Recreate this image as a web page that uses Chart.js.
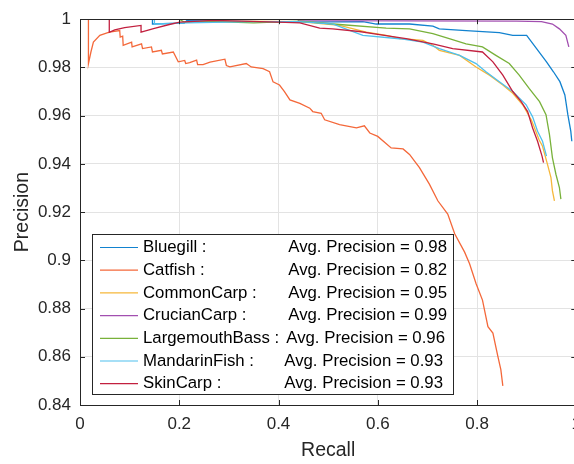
<!DOCTYPE html>
<html lang="en">
<head>
  <meta charset="UTF-8">
  <title>Precision-Recall</title>
  <script src="https://cdn.jsdelivr.net/npm/chart.js"></script>
  <style>
    html, body { margin: 0; padding: 0; overflow: hidden; background: #fff; }
  </style>
</head>
<body>
  <canvas id="prChart" width="590" height="464"></canvas>

  <script>
    // precision-recall points [recall, precision]
    const bluegill = [[0,1],[0.146,1],[0.146,0.998],[0.21,0.9984],[0.215,0.9994],[0.443,0.9988],[0.570,0.999],[0.597,0.998],[0.664,0.998],[0.711,0.9971],[0.724,0.996],[0.778,0.9953],[0.845,0.9944],[0.872,0.9933],[0.900,0.9933],[0.920,0.9878],[0.940,0.9823],[0.954,0.9782],[0.967,0.9741],[0.977,0.9686],[0.983,0.9604],[0.989,0.9535],[0.991,0.9494]];
    const catfish = [[0,1],[0.017,1],[0.017,0.9816],[0.022,0.9864],[0.027,0.9905],[0.040,0.9933],[0.059,0.9946],[0.080,0.9953],[0.081,0.9926],[0.086,0.9930],[0.087,0.9892],[0.104,0.9905],[0.105,0.9885],[0.124,0.9898],[0.126,0.9878],[0.144,0.9885],[0.146,0.9864],[0.164,0.9871],[0.166,0.9856],[0.188,0.9864],[0.198,0.9823],[0.211,0.9829],[0.213,0.9816],[0.221,0.982],[0.235,0.983],[0.237,0.9812],[0.248,0.9812],[0.262,0.9822],[0.292,0.9834],[0.295,0.9808],[0.302,0.9802],[0.335,0.9816],[0.345,0.9802],[0.369,0.9795],[0.382,0.9782],[0.389,0.974],[0.402,0.9727],[0.412,0.970],[0.423,0.9665],[0.443,0.9651],[0.463,0.9631],[0.469,0.9617],[0.486,0.961],[0.493,0.9583],[0.523,0.9563],[0.557,0.9549],[0.573,0.9558],[0.584,0.9528],[0.600,0.9514],[0.627,0.9466],[0.651,0.9462],[0.664,0.9439],[0.684,0.9384],[0.704,0.9316],[0.721,0.9247],[0.741,0.9192],[0.755,0.911],[0.775,0.9034],[0.785,0.8986],[0.798,0.8904],[0.811,0.8835],[0.822,0.8725],[0.832,0.8698],[0.842,0.8602],[0.848,0.8547],[0.852,0.8479]];
    const commonCarp = [[0,1],[0.25,1],[0.30,0.9992],[0.443,0.999],[0.523,0.9974],[0.577,0.9946],[0.617,0.9933],[0.644,0.992],[0.691,0.9912],[0.711,0.9892],[0.724,0.9871],[0.765,0.985],[0.798,0.9802],[0.825,0.9768],[0.852,0.9727],[0.872,0.9693],[0.892,0.9645],[0.910,0.958],[0.925,0.950],[0.932,0.9473],[0.942,0.9398],[0.949,0.9343],[0.952,0.9288],[0.956,0.9247]];
    const crucianCarp = [[0,1],[0.44,1],[0.44,0.9994],[0.88,0.9992],[0.93,0.999],[0.952,0.998],[0.966,0.996],[0.979,0.9933],[0.985,0.9885]];
    const largemouthBass = [[0,1],[0.2,1],[0.21,0.9988],[0.27,0.999],[0.35,0.9985],[0.443,0.9992],[0.51,0.998],[0.617,0.9963],[0.664,0.996],[0.711,0.994],[0.744,0.9919],[0.778,0.9898],[0.811,0.9885],[0.838,0.985],[0.865,0.9816],[0.885,0.9768],[0.905,0.9713],[0.926,0.9658],[0.939,0.9604],[0.946,0.9521],[0.952,0.9425],[0.959,0.9357],[0.966,0.9302],[0.969,0.9254]];
    const mandarinFish = [[0,1],[0.15,1],[0.15,0.998],[0.215,0.9985],[0.35,0.999],[0.443,0.999],[0.510,0.998],[0.570,0.9933],[0.644,0.9919],[0.691,0.9905],[0.724,0.9878],[0.765,0.985],[0.798,0.9816],[0.818,0.9782],[0.845,0.9741],[0.872,0.970],[0.899,0.9645],[0.912,0.9595],[0.922,0.9535],[0.932,0.9494],[0.940,0.9432]];
    const skinCarp = [[0,1],[0.059,1],[0.059,0.9946],[0.07,0.9956],[0.09,0.9965],[0.123,0.9974],[0.123,0.9946],[0.15,0.9962],[0.18,0.9978],[0.201,0.9988],[0.268,0.9995],[0.40,0.9988],[0.443,0.9985],[0.483,0.9963],[0.509,0.996],[0.563,0.9949],[0.590,0.994],[0.657,0.9919],[0.711,0.9898],[0.751,0.9878],[0.811,0.9864],[0.832,0.9823],[0.852,0.9768],[0.872,0.970],[0.889,0.9658],[0.902,0.9617],[0.912,0.9549],[0.922,0.9494],[0.931,0.9432],[0.934,0.9405]];

    const classNames = ['Bluegill :', 'Catfish :', 'CommonCarp :', 'CrucianCarp :', 'LargemouthBass :', 'MandarinFish :', 'SkinCarp :'];
    const avgPrecision = ['0.98', '0.82', '0.95', '0.99', '0.96', '0.93', '0.93'];
    const series = [bluegill, catfish, commonCarp, crucianCarp, largemouthBass, mandarinFish, skinCarp];
    const colors = ['#1282cf', '#f4683a', '#f6b73a', '#a24fb0', '#78b13a', '#4fc0ee', '#c2203f'];

    const FONT = "'Liberation Sans', Arial, Helvetica, sans-serif";

    const boxPlugin = {
      id: 'boxPlugin',
      afterDatasetsDraw(chart) {
        const { ctx, chartArea: a, scales } = chart;
        ctx.save();
        ctx.strokeStyle = '#262626';
        ctx.lineWidth = 1;
        ctx.strokeRect(Math.round(a.left) + 0.5, Math.round(a.top) + 0.5, Math.round(a.right - a.left), Math.round(a.bottom - a.top));
        // inward tick marks, all four sides
        const len = 5;
        ctx.beginPath();
        scales.x.ticks.forEach(t => {
          const x = Math.round(scales.x.getPixelForValue(t.value)) + 0.5;
          ctx.moveTo(x, a.bottom); ctx.lineTo(x, a.bottom - len);
          ctx.moveTo(x, a.top); ctx.lineTo(x, a.top + len);
        });
        scales.y.ticks.forEach(t => {
          const y = Math.round(scales.y.getPixelForValue(t.value)) + 0.5;
          ctx.moveTo(a.left, y); ctx.lineTo(a.left + len, y);
          ctx.moveTo(a.right, y); ctx.lineTo(a.right - len, y);
        });
        ctx.stroke();

        // legend box
        const bx = 92.5, by = 234.5, bw = 361, bh = 160, rowH = 22.7;
        ctx.fillStyle = '#fff';
        ctx.fillRect(bx, by, bw, bh);
        ctx.strokeRect(bx, by, bw, bh);
        ctx.font = '16.8px ' + FONT;
        ctx.textBaseline = 'middle';
        classNames.forEach((name, i) => {
          const y = by + 13 + i * rowH;
          ctx.strokeStyle = colors[i];
          ctx.lineWidth = 1.2;
          ctx.beginPath();
          ctx.moveTo(100, y); ctx.lineTo(138, y);
          ctx.stroke();
          ctx.fillStyle = '#000';
          ctx.textAlign = 'left';
          ctx.fillText(name, 143, y);
          ctx.textAlign = 'right';
          ctx.fillText('Avg. Precision = ' + avgPrecision[i], i < 4 ? 447 : (i === 4 ? 445 : 443), y);
        });
        ctx.restore();
      }
    };

    const ctx = document.getElementById('prChart').getContext('2d');
    const chart = new Chart(ctx, {
      type: 'scatter',
      data: {
        datasets: series.map((s, i) => ({
          label: classNames[i],
          data: s.map(p => ({ x: p[0], y: p[1] })),
          showLine: true,
          borderColor: colors[i],
          borderWidth: 1.3,
          pointRadius: 0,
          fill: false,
          tension: 0,
          order: series.length - i
        }))
      },
      options: {
        responsive: false,
        animation: false,
        events: [],
        layout: { padding: { top: 17, right: 13, left: 0, bottom: 0 } },
        plugins: { legend: { display: false }, tooltip: { enabled: false } },
        scales: {
          x: {
            type: 'linear', min: 0, max: 1,
            afterFit: s => { s.height = 59; },
            grid: { color: '#e3e3e3', drawTicks: false },
            border: { display: false },
            ticks: {
              stepSize: 0.2, padding: 9, color: '#262626',
              font: { family: FONT, size: 17 },
              callback: v => Number(v.toFixed(2)).toString()
            },
            title: { display: true, text: 'Recall', color: '#262626', font: { family: FONT, size: 19.5 }, padding: { top: 0, bottom: 2 } }
          },
          y: {
            type: 'linear', min: 0.84, max: 1,
            afterFit: s => { s.width = 80; },
            grid: { color: '#e3e3e3', drawTicks: false },
            border: { display: false },
            ticks: {
              stepSize: 0.02, padding: 9, color: '#262626',
              font: { family: FONT, size: 17 },
              callback: v => Number(v.toFixed(2)).toString()
            },
            title: { display: true, text: 'Precision', color: '#262626', font: { family: FONT, size: 19.5 }, padding: { top: 11, bottom: 0 } }
          }
        }
      },
      plugins: [boxPlugin]
    });
  </script>
</body>
</html>
